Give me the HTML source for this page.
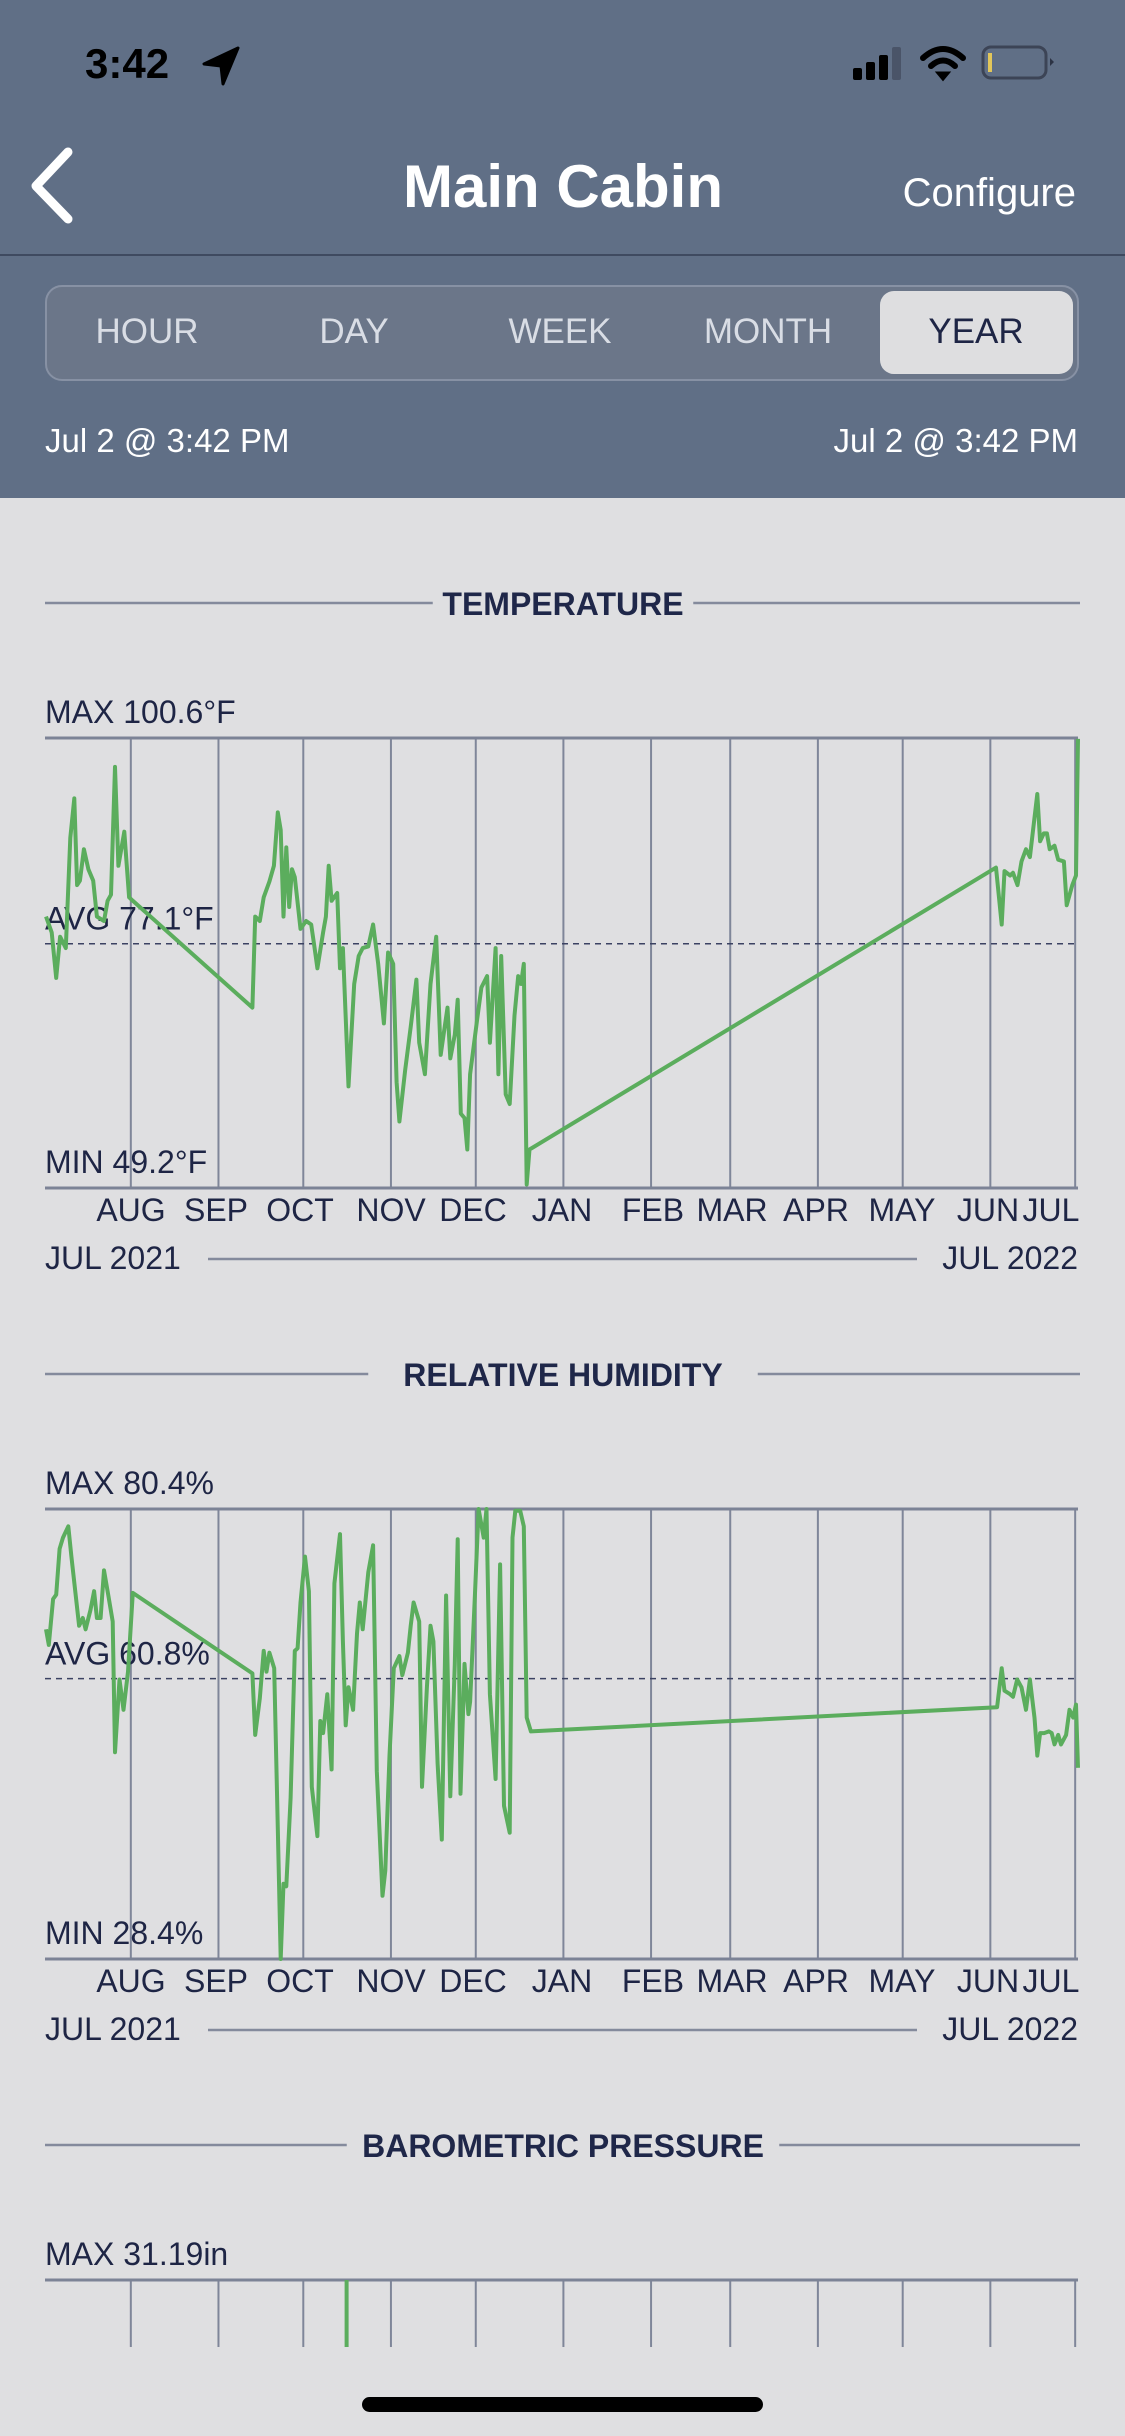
<!DOCTYPE html>
<html><head><meta charset="utf-8"><style>
html,body{margin:0;padding:0;background:#dfdfe1;width:1125px;height:2436px;overflow:hidden;}
svg{display:block;font-family:"Liberation Sans",sans-serif;}
</style></head><body>
<svg id="page" width="1125" height="2436" viewBox="0 0 1125 2436" xmlns="http://www.w3.org/2000/svg">
<rect x="0" y="0" width="1125" height="2436" fill="#dfdfe1"/>
<g>
<rect x="0" y="0" width="1125" height="498" fill="#606f86"/>
<text x="85" y="78" font-size="42" font-weight="bold" fill="#000">3:42</text>
<path d="M238 48 L204 64 L221 66 L223 84 Z" fill="#000" stroke="#000" stroke-width="3" stroke-linejoin="round"/>
<g>
<rect x="853" y="68" width="9" height="12" rx="2" fill="#000"/><rect x="866" y="62" width="9" height="18" rx="2" fill="#000"/><rect x="879" y="55" width="9" height="25" rx="2" fill="#000"/><rect x="892" y="47" width="9" height="33" rx="2" fill="#4a5468"/>
</g>
<g fill="none" stroke="#000" stroke-width="6" stroke-linecap="round">
<path d="M923 58 Q943 40 963 58"/><path d="M931 66 Q943 55 955 66"/><path d="M938 73 L943 79 L948 73 Z" fill="#000" stroke-width="3"/>
</g>
<g>
<rect x="983" y="47" width="63" height="31" rx="8" fill="none" stroke="#3c4456" stroke-width="3"/>
<rect x="988" y="53" width="4" height="19" fill="#e2c65a"/>
<path d="M1050 58 L1054 62 L1050 66 Z" fill="#2c3344"/>
</g>
<path d="M68 152 L36 186 L68 219" fill="none" stroke="#fff" stroke-width="9" stroke-linecap="round" stroke-linejoin="round"/>
<text x="563" y="207" font-size="60" font-weight="bold" fill="#fff" text-anchor="middle">Main Cabin</text>
<text x="1076" y="206" font-size="40" fill="#fff" text-anchor="end">Configure</text>
<rect x="0" y="254" width="1125" height="2" fill="#3f4a60"/>
<rect x="46" y="286" width="1032" height="94" rx="16" fill="#6b7689" stroke="#8791a4" stroke-width="2"/>
<rect x="880" y="291" width="193" height="83" rx="14" fill="#dedee0"/>
<g font-size="35" text-anchor="middle" fill="#d9dde5">
<text x="147" y="343">HOUR</text>
<text x="354" y="343">DAY</text>
<text x="560" y="343">WEEK</text>
<text x="768" y="343">MONTH</text>
<text x="976" y="343" fill="#1e2545">YEAR</text>
</g>
<text x="45" y="452" font-size="33" fill="#fff">Jul 2 @ 3:42 PM</text>
<text x="1078" y="452" font-size="33" fill="#fff" text-anchor="end">Jul 2 @ 3:42 PM</text>
</g>
<g id="charts"></g>
<rect x="362" y="2397" width="401" height="15" rx="7.5" fill="#000"/>
</svg>
<script>
const monthLabels=["AUG","SEP","OCT","NOV","DEC","JAN","FEB","MAR","APR","MAY","JUN","JUL"];
const monthDays=[30,61,91,122,152,183,214,242,273,303,334,364];
const monthLabelX=[131,216,300,391,473,562,653,732,816,902,988,1051];
const tempDays=[0,2,3.6,5,7,8.6,10,11,12,13.4,15,16.7,18,20.5,21.8,23,24.4,25.6,27.7,29.4,30.7,73,74,75.6,77,79,80.6,82,83,84,85,86,87,88,90,92,93.8,95,96,98,99,100,101,103,104,105,107,109,110.6,112,114,115.7,117.5,119.5,121,122.8,124,125,127,129,131,132,134,136,138,139.6,141,142,143,144.6,145.6,146.7,148,149,150,152.5,154,156,157,159,160,161,162.6,164,165.7,167,168,169,170,171,336,338,339,341,342,343.6,345,346.6,348,349.6,350.6,351.6,352.9,354,355,356.7,358,360,361,363,364.3,365];
const tempVals=[80.2,78.4,73.2,77.9,76.6,89.2,93.7,83.8,84.3,87.9,85.6,84.3,80.2,79.7,82.0,82.7,97.3,86.0,89.9,82.4,82.0,69.8,80.2,79.7,82.4,84.2,86.0,92.1,90.1,80.2,88.1,81.3,85.6,84.7,78.8,79.7,79.3,76.6,74.3,78.4,80.2,86.0,82.0,82.9,74.3,76.6,60.8,72.5,75.7,76.6,76.8,79.3,74.8,68.0,76.1,74.8,61.3,56.8,62.6,67.6,73.0,65.8,62.2,72.5,77.9,64.4,67.6,69.8,64.0,66.7,70.7,57.7,57.2,53.6,62.2,68.5,72.1,73.4,65.8,76.6,62.2,75.7,59.9,58.8,68.9,73.4,72.5,74.8,49.6,53.6,85.8,79.3,85.4,84.9,85.2,83.8,86.5,87.9,87.0,91.5,94.2,88.8,89.7,89.7,87.9,88.3,86.7,86.5,81.5,83.8,84.9,100.5];
const humDays=[0,1,2.5,3.6,4.8,6,7.9,9,11.7,13,14,15.7,17,18,19.3,20.5,22,23.6,24.4,26,27.4,29,30.7,73,74,75.6,77,78,79,80.7,82,83,84,85,86.5,88,89,90,91.6,93,94,96,97,98,99.5,101,102,104,105,106,107,108.6,110,111,112,114,115.7,117,119,120,121.5,123,125,126,128,129,130,132,133,134.7,136,137,138.5,140,141.5,143,144.6,145.6,146.6,148,149.4,150,151.7,153,154.8,155.8,157,159,160.6,162,164,165,166,167.7,169,170,171.5,336.4,338,339,341,342,343.5,345,346.6,348,349.6,350.6,351.6,353,354.7,355.7,356.7,358,359,360.8,362,363.3,364.3,365];
const humVals=[66.5,64.7,70.0,70.5,75.8,77.1,78.4,74.9,66.9,67.8,66.5,68.7,70.9,67.8,67.8,73.3,70.5,67.4,52.3,60.7,57.2,61.6,70.7,61.4,54.3,58.5,64.0,61.6,63.8,62.0,43.5,28.4,37.1,36.8,47.0,64.0,64.3,69.6,74.9,70.9,48.3,42.6,55.9,54.5,59.0,50.3,71.8,77.5,65.1,55.4,59.8,57.2,66.0,69.6,66.5,73.1,76.2,50.1,35.7,38.6,51.9,62.0,63.4,61.2,63.8,66.9,69.6,67.4,48.3,59.8,66.9,65.1,51.0,42.2,70.4,47.2,62.5,76.9,47.5,62.5,56.7,58.1,70.4,80.4,77.1,80.4,59.0,49.2,74.0,46.1,43.0,77.1,80.2,80.2,78.4,56.3,54.7,57.5,62.0,59.4,59.0,58.7,60.7,59.8,57.2,60.7,56.3,51.9,54.5,54.5,54.7,54.5,53.2,54.3,53.2,54.3,57.2,56.3,57.8,50.5];
const presDays=[106.3,106.3];
const presVals=[31.19,29.5];
const charts=[
 {name:"temperature",title:"TEMPERATURE",max:100.6,avg:77.1,min:49.2,unit:"°F",dec:1,days:tempDays,vals:tempVals,full:true},
 {name:"humidity",title:"RELATIVE HUMIDITY",max:80.4,avg:60.8,min:28.4,unit:"%",dec:1,days:humDays,vals:humVals,full:true},
 {name:"pressure",title:"BAROMETRIC PRESSURE",max:31.19,avg:30.0,min:29.5,unit:"in",dec:2,days:presDays,vals:presVals,full:false}
];
const NS="http://www.w3.org/2000/svg";
const root=document.getElementById("charts");
const X0=46,X1=1078;
function xScale(d){return X0+d/365*(X1-X0);}
function mk(tag,attrs,parent,text){const e=document.createElementNS(NS,tag);for(const k in attrs)e.setAttribute(k,attrs[k]);if(text!==undefined)e.textContent=text;parent.appendChild(e);return e;}
charts.forEach((c,i)=>{
 const off=i*771;
 const top=738+off,bot=1188+off;
 const yScale=v=>top+(c.max-v)/(c.max-c.min)*(bot-top);
 const g=mk("g",{},root);
 
 
 const tw=c.title.length*21.5;
 const l1=mk("line",{x1:45,x2:563-tw/2-12,y1:603+off,y2:603+off,stroke:"#848a9c","stroke-width":2.5},g);
 
 
 const l2=mk("line",{x1:563+tw/2+12,x2:1080,y1:603+off,y2:603+off,stroke:"#848a9c","stroke-width":2.5},g);
 
 
 const t=mk("text",{x:563,y:615+off,"font-size":32,"font-weight":"bold",fill:"#1f2749","text-anchor":"middle"},g,c.title);
 
 
 const mx=mk("text",{x:45,y:723+off,"font-size":32,fill:"#1e2545"},g,"MAX "+c.max.toFixed(c.dec)+c.unit);
 
 
 const clipId="clip"+i;
 const cp=mk("clipPath",{id:clipId},g);
 mk("rect",{x:40,y:top-3,width:1045,height:c.full?(bot-top+6):(2347-top+3)},cp);
 const gbot=c.full?bot:2347;
 monthDays.forEach((d,j)=>{
  const ln=mk("line",{x1:xScale(d),x2:xScale(d),y1:top,y2:gbot,stroke:"#7f8699","stroke-width":2},g);
  
  
 });
 const tl=mk("line",{x1:45,x2:X1,y1:top,y2:top,stroke:"#7c8396","stroke-width":3},g);
 
 
 if(c.full){
  const bl=mk("line",{x1:45,x2:X1,y1:bot,y2:bot,stroke:"#7c8396","stroke-width":3},g);
  
  
  const al=mk("line",{x1:45,x2:1075,y1:yScale(c.avg),y2:yScale(c.avg),stroke:"#3b4262","stroke-width":1.5,"stroke-dasharray":"6 5"},g);
  
  
  const av=mk("text",{x:45,y:yScale(c.avg)-14,"font-size":32,fill:"#1e2545"},g,"AVG "+c.avg.toFixed(c.dec)+c.unit);
  
  
  const mn=mk("text",{x:45,y:bot-15,"font-size":32,fill:"#1e2545"},g,"MIN "+c.min.toFixed(c.dec)+c.unit);
  
  
  monthLabels.forEach((m,j)=>{
   const ml=mk("text",{x:monthLabelX[j],y:1221+off,"font-size":32,fill:"#1e2545","text-anchor":"middle"},g,m);
   
   
  });
  const s=mk("text",{x:45,y:1269+off,"font-size":32,fill:"#1e2545"},g,"JUL 2021");
  
  
  const e=mk("text",{x:1078,y:1269+off,"font-size":32,fill:"#1e2545","text-anchor":"end"},g,"JUL 2022");
  
  
  const rl=mk("line",{x1:208,x2:917,y1:1259+off,y2:1259+off,stroke:"#848a9c","stroke-width":2.5},g);
  
  
 }
 const pts=c.days.map((d,k)=>xScale(d).toFixed(1)+","+yScale(c.vals[k]).toFixed(1)).join(" ");
 const pl=mk("polyline",{points:pts,fill:"none",stroke:"#5bad5d","stroke-width":4,"stroke-linejoin":"round","clip-path":"url(#"+clipId+")"},g);
 
 
});
</script>
</body></html>
